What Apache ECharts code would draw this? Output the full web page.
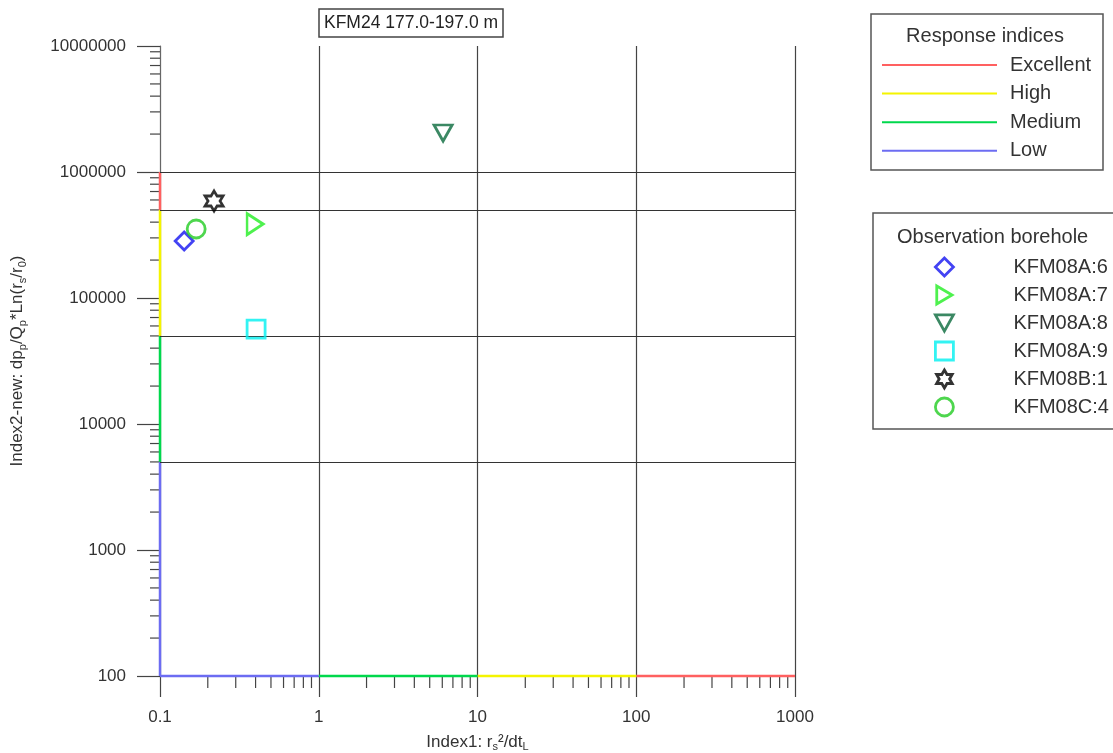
<!DOCTYPE html>
<html>
<head>
<meta charset="utf-8">
<script src="https://cdn.jsdelivr.net/npm/echarts@6/dist/echarts.min.js"></script>
<style>
  html, body { margin: 0; padding: 0; background: #fff; }
  #chart { width: 1113px; height: 753px; }
</style>
</head>
<body>
<div id="chart"></div>
<script>
// observation boreholes, values
const boreholes = ['KFM08A:6', 'KFM08A:7', 'KFM08A:8', 'KFM08A:9', 'KFM08B:1', 'KFM08C:4'];
const index1 = [0.142, 0.397, 6.07, 0.403, 0.219, 0.169];
const index2 = [283000, 386000, 2040000, 56700, 589000, 353000];

// response index classes and their limits on both axes
const classes = ['Excellent', 'High', 'Medium', 'Low'];
const index1Limits = [[100, 1000], [10, 100], [1, 10], [0.1, 1]];
const index2Limits = [[500000, 1000000], [50000, 500000], [5000, 50000], [100, 5000]];
const index2Lines = [1000000, 500000, 50000, 5000];

// log axis minor ticks (2..9 in every decade)
const minorSteps = [2, 3, 4, 5, 6, 7, 8, 9];
const xDecades = [0.1, 1, 10, 100];
const yDecades = [100, 1000, 10000, 100000, 1000000];

const font = '"Liberation Sans", Arial, sans-serif';
const classColors = ['#ff6060', '#f4f400', '#00d84c', '#6c6cf2'];
const symbols = [
  'diamond',
  'path://M0,0L17,10L0,20Z',
  'path://M0,0L20,0L10,18Z',
  'rect',
  'path://M10,0L12.887,5L18.66,5L15.774,10L18.66,15L12.887,15L10,20L7.113,15L1.34,15L4.226,10L1.34,5L7.113,5Z',
  'circle'
];
const symbolSizes = [18, [16, 21], [18, 16], 18, [18, 20], 18];
const symbolColors = ['#1414f0', '#22ee22', '#0a6a3c', '#00f0f0', '#000000', '#22cc22'];

const fmt = v => String(+(+v).toPrecision(6));

const chart = echarts.init(document.getElementById('chart'));

let minorData = [];
xDecades.forEach(d => minorSteps.forEach(k => minorData.push([k * d, 100, 0])));
yDecades.forEach(d => minorSteps.forEach(k => minorData.push([0.1, k * d, 1])));

let series = [];
// minor ticks + class limit lines
series.push({
  type: 'custom',
  silent: true,
  clip: false,
  z: 1,
  data: minorData,
  renderItem: (params, api) => {
    const p = api.coord([api.value(0), api.value(1)]);
    const vert = api.value(2) === 0;
    return {
      type: 'line',
      shape: vert
        ? { x1: p[0], y1: p[1], x2: p[0], y2: p[1] + 12 }
        : { x1: p[0] - 10, y1: p[1], x2: p[0], y2: p[1] },
      style: { stroke: '#444', lineWidth: 1.2 }
    };
  },
  markLine: {
    silent: true,
    symbol: ['none', 'none'],
    label: { show: false },
    lineStyle: { color: '#333', width: 1.2, type: 'solid' },
    data: index2Lines.map(v => ({ yAxis: v }))
  }
});

// coloured axis segments
classes.forEach((name, i) => {
  const common = {
    name: name,
    type: 'line',
    symbol: 'none',
    clip: false,
    silent: true,
    z: 4,
    color: classColors[i],
    lineStyle: { color: classColors[i], width: 2.5 }
  };
  series.push(Object.assign({}, common, { data: [[index1Limits[i][0], 100], [index1Limits[i][1], 100]] }));
  series.push(Object.assign({}, common, { data: [[0.1, index2Limits[i][0]], [0.1, index2Limits[i][1]]] }));
});

// boreholes
boreholes.forEach((name, i) => {
  series.push({
    name: name,
    type: 'scatter',
    z: 6,
    symbol: symbols[i],
    symbolSize: symbolSizes[i],
    itemStyle: { color: 'rgba(255,255,255,0)', borderColor: symbolColors[i], borderWidth: 2.8 },
    data: [[index1[i], index2[i]]]
  });
});

const subStyle = { s: { fontSize: 11, lineHeight: 12, verticalAlign: 'bottom', color: '#333' } };

chart.setOption({
  animation: false,
  textStyle: { fontFamily: font },
  title: {
    text: 'KFM24 177.0-197.0 m',
    left: 319,
    top: 9,
    padding: [5, 5, 5, 5],
    borderColor: '#444',
    borderWidth: 1.5,
    textStyle: { fontSize: 17.5, fontWeight: 'normal', color: '#222', fontFamily: font }
  },
  grid: { left: 160, top: 46, width: 635, height: 630, containLabel: false, outerBoundsMode: 'none' },
  legend: [
    {
      data: classes,
      orient: 'vertical',
      left: 882,
      top: 54,
      padding: 0,
      icon: 'rect',
      itemWidth: 115,
      itemHeight: 2,
      itemGap: 6.6,
      selectedMode: false,
      textStyle: { fontSize: 20, color: '#333', lineHeight: 22, padding: [0, 0, 0, 8] }
    },
    {
      data: boreholes,
      orient: 'vertical',
      left: 934,
      top: 256,
      padding: 0,
      itemWidth: 18,
      itemHeight: 18,
      itemGap: 6,
      selectedMode: false,
      itemStyle: { borderWidth: 2.8 },
      textStyle: { fontSize: 20, color: '#333', lineHeight: 22, padding: [0, 0, 0, 55] }
    }
  ],
  graphic: [
    { type: 'rect', z: 0, shape: { x: 871, y: 14, width: 232, height: 156 },
      style: { fill: 'none', stroke: '#555', lineWidth: 1.5 } },
    { type: 'text', x: 985, y: 36, style: { text: 'Response indices', font: '20px ' + font, fill: '#333', align: 'center', verticalAlign: 'middle' } },
    { type: 'rect', z: 0, shape: { x: 873, y: 213, width: 260, height: 216 },
      style: { fill: 'none', stroke: '#555', lineWidth: 1.5 } },
    { type: 'text', x: 897, y: 237, style: { text: 'Observation borehole', font: '20px ' + font, fill: '#333', align: 'left', verticalAlign: 'middle' } }
  ],
  xAxis: {
    type: 'log',
    logBase: 10,
    min: 0.1,
    max: 1000,
    name: 'Index1: r{s|s}²/dt{s|L}',
    nameLocation: 'middle',
    nameGap: 48,
    nameTextStyle: { fontSize: 17, color: '#333', lineHeight: 22, rich: subStyle },
    axisLine: { show: true, lineStyle: { color: '#555' } },
    axisTick: { length: 21, lineStyle: { color: '#444', width: 1.2 } },
    axisLabel: { fontSize: 17, color: '#333', margin: 33, formatter: fmt },
    splitLine: { show: true, lineStyle: { color: '#444', width: 1.2 } },
    minorTick: { show: false }
  },
  yAxis: {
    type: 'log',
    logBase: 10,
    min: 100,
    max: 10000000,
    name: 'Index2-new: dp{s|p}/Q{s|p}*Ln(r{s|s}/r{s|0})',
    nameLocation: 'middle',
    nameGap: 132,
    nameRotate: 90,
    nameTextStyle: { fontSize: 17, color: '#333', lineHeight: 22, rich: subStyle },
    axisLine: { show: true, lineStyle: { color: '#666' } },
    axisTick: { length: 23, lineStyle: { color: '#444', width: 1.2 } },
    axisLabel: { fontSize: 17, color: '#333', margin: 34, formatter: fmt },
    splitLine: { show: false },
    minorTick: { show: false }
  },
  series: series
});
</script>
</body>
</html>
